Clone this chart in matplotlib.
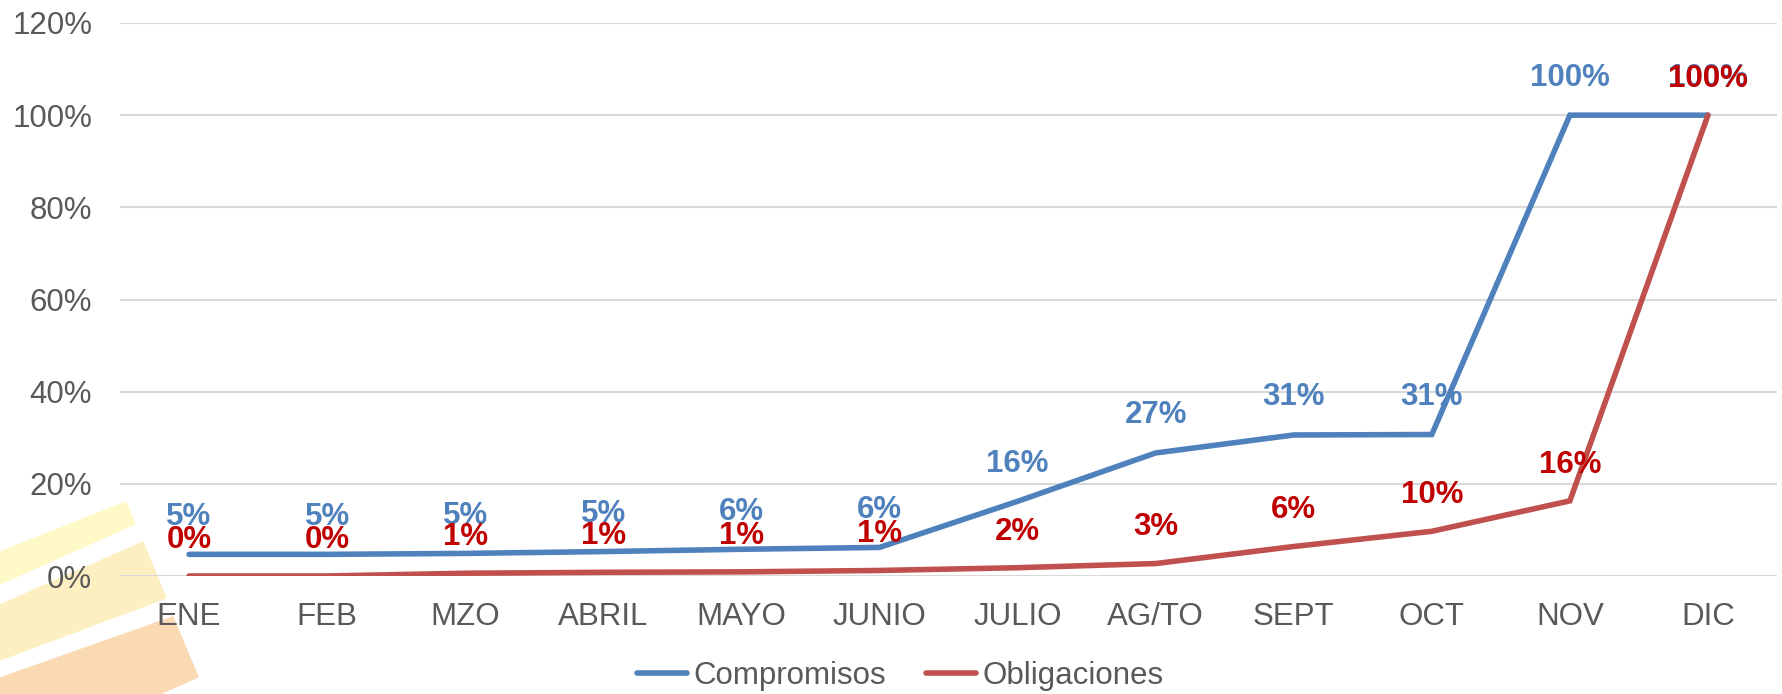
import matplotlib.pyplot as plt
from matplotlib.patches import Polygon

meses = ["ENE", "FEB", "MZO", "ABRIL", "MAYO", "JUNIO", "JULIO", "AG/TO", "SEPT", "OCT", "NOV", "DIC"]
compromisos = [0.047, 0.047, 0.049, 0.053, 0.058, 0.062, 0.162, 0.267, 0.306, 0.307, 1.0, 1.0]
obligaciones = [0.0, 0.0, 0.006, 0.008, 0.009, 0.012, 0.018, 0.027, 0.064, 0.097, 0.163, 1.0]
yticks = [0, 0.2, 0.4, 0.6, 0.8, 1.0, 1.2]

plt.rcParams['font.family'] = ['Liberation Sans', 'DejaVu Sans']

W, H = 1783, 694
fig = plt.figure(figsize=(W / 100, H / 100), dpi=100)

# marca de agua (esquina inferior izquierda), coordenadas en pixeles
def px(pts):
    return [(x / W, 1 - y / H) for x, y in pts]

fig.patches.append(Polygon(px([(0, 552), (126, 502), (135, 524), (0, 584)]),
                           closed=True, transform=fig.transFigure, color="#FEF9C6", zorder=-5))
fig.patches.append(Polygon(px([(0, 605), (143, 542), (166, 598), (0, 660)]),
                           closed=True, transform=fig.transFigure, color="#FEEFC2", zorder=-5))
fig.patches.append(Polygon(px([(0, 678), (173, 617), (198, 677), (160, 694), (0, 694)]),
                           closed=True, transform=fig.transFigure, color="#F9DAB3", zorder=-5))

ax = fig.add_axes([120 / W, 1 - 576 / H, 1657 / W, 553 / H])
ax.patch.set_visible(False)

x = list(range(len(meses)))
ax.plot(x, compromisos, color="#4F81BD", lw=4, solid_capstyle="round", solid_joinstyle="miter",
        label="Compromisos", zorder=3)
ax.plot(x, obligaciones, color="#C0504D", lw=4, solid_capstyle="round", solid_joinstyle="miter",
        label="Obligaciones", zorder=3)

for xi, v in zip(x, compromisos):
    ax.annotate(f"{v:.0%}", (xi, v), xytext=(0, 27), textcoords="offset points",
                ha="center", va="center", fontsize=22.5, fontweight="bold", color="#4F81BD", zorder=4)
for xi, v in zip(x, obligaciones):
    ax.annotate(f"{v:.0%}", (xi, v), xytext=(0, 26), textcoords="offset points",
                ha="center", va="center", fontsize=22.5, fontweight="bold", color="#C00000", zorder=5)

ax.set_xlim(-0.5, len(meses) - 0.5)
ax.set_ylim(0, 1.2)
ax.set_yticks(yticks)
ax.set_yticklabels([f"{t:.0%}" for t in yticks])
ax.set_xticks(x)
ax.set_xticklabels(meses)
ax.tick_params(axis="both", length=0, labelsize=22.5, labelcolor="#595959")
ax.tick_params(axis="y", pad=20)
ax.tick_params(axis="x", pad=18.5)
ax.grid(axis="y", color="#D9D9D9", lw=1.5)
ax.set_axisbelow(True)
for s in ax.spines.values():
    s.set_visible(False)

leg = fig.legend(loc="center", bbox_to_anchor=(0.505, 0.026), ncol=2, frameon=False,
                 fontsize=22.5, handlelength=1.6, handletextpad=0.2, columnspacing=1.3,
                 labelcolor="#595959")

fig.savefig("out.png", dpi=100)
